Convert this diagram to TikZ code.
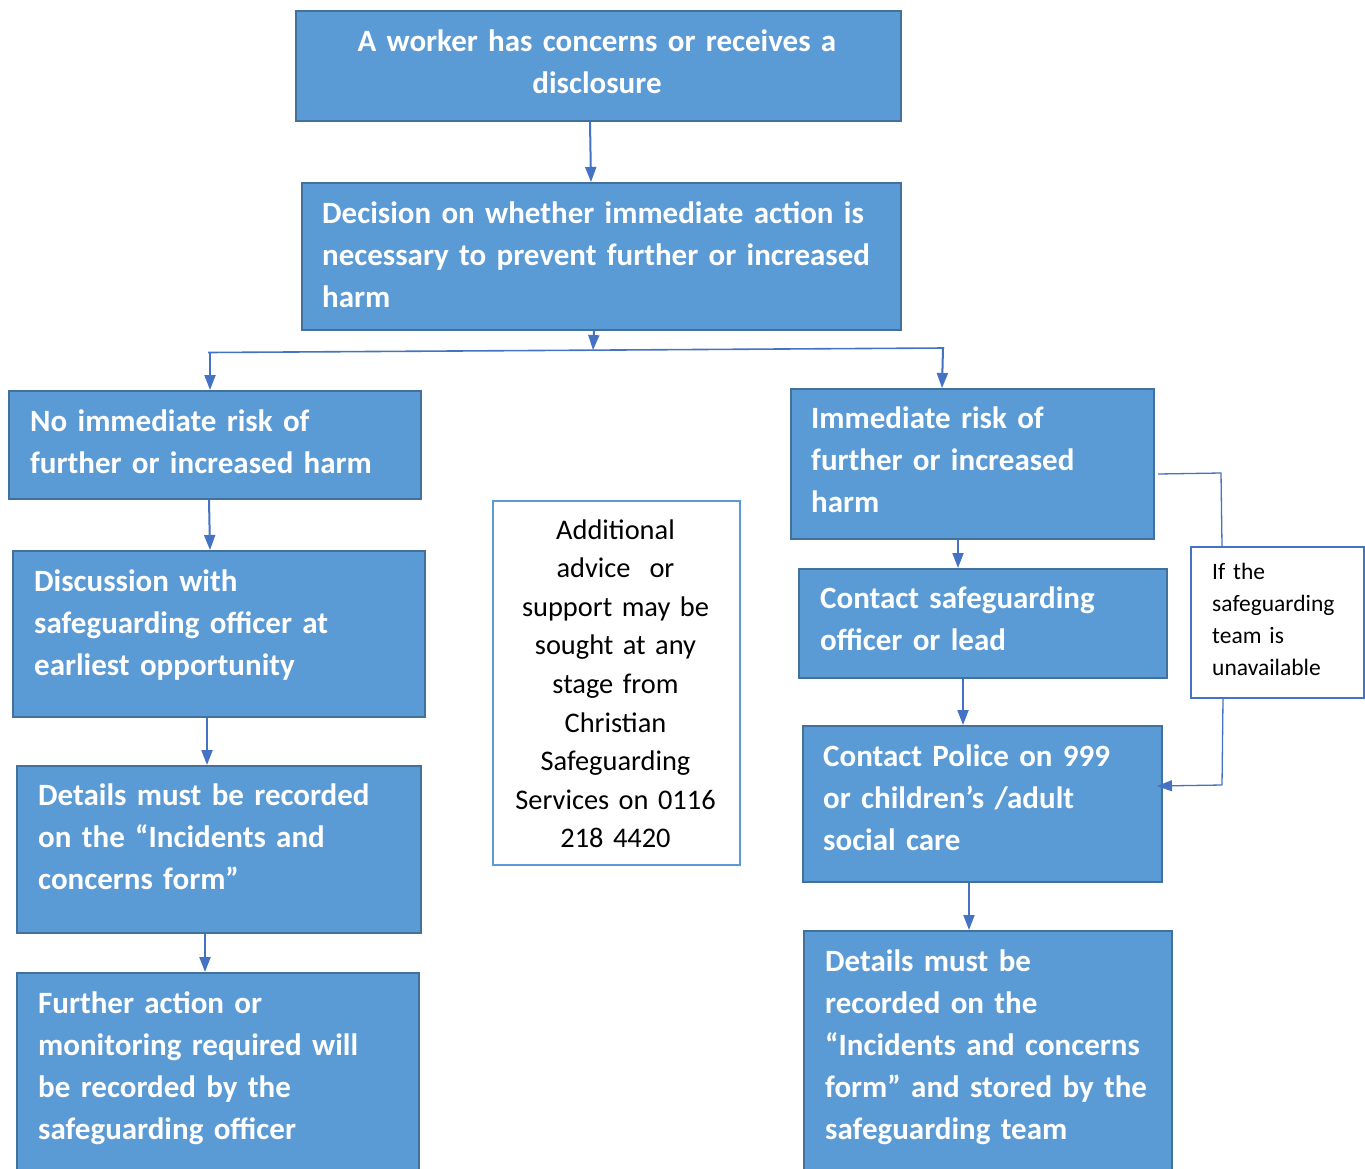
\documentclass[tikz,border=0pt]{standalone}
\usepackage{fontspec}
\setmainfont{Carlito}
\usetikzlibrary{arrows.meta}
\definecolor{boxfill}{HTML}{5B9BD5}
\definecolor{boxline}{HTML}{41719C}
\definecolor{arrcol}{HTML}{4472C4}
\tikzset{
  box/.style={draw=boxline, fill=boxfill, line width=2pt, rectangle, inner sep=0pt, anchor=north west},
  wbox/.style={draw=#1, fill=white, line width=2pt, rectangle, inner sep=0pt, anchor=north west},
  txt/.style={text=white, font=\bfseries\fontsize{31}{42}\selectfont, inner sep=0pt, align=left, text width=#1, anchor=base west},
  arr/.style={draw=arrcol, line width=2pt, -{Triangle[width=11pt,length=15pt]}},
  thin/.style={draw=arrcol, line width=1.3pt},
}
\begin{document}
\begin{tikzpicture}[x=1pt,y=-1pt]
\useasboundingbox (0,0) rectangle (1365,1168);
\clip (0,0) rectangle (1365,1168);
\fill[white] (0,0) rectangle (1365,1168);
% boxes
\node[box, minimum width=605pt, minimum height=110pt] (b1) at (295,10) {};
\node[box, minimum width=599pt, minimum height=147pt] (b2) at (301,182) {};
\node[box, minimum width=412pt, minimum height=108pt] (b3) at (8,390) {};
\node[box, minimum width=412pt, minimum height=166pt] (b4) at (12,550) {};
\node[box, minimum width=404pt, minimum height=167pt] (b5) at (16,765) {};
\node[box, minimum width=402pt, minimum height=215pt] (b6) at (16,972) {};
\node[box, minimum width=363pt, minimum height=150pt] (b7) at (790,388) {};
\node[box, minimum width=368pt, minimum height=109pt] (b8) at (798,568) {};
\node[box, minimum width=359pt, minimum height=156pt] (b9) at (802,725) {};
\node[box, minimum width=368pt, minimum height=257pt] (b10) at (803,930) {};
\node[wbox=boxfill, minimum width=247pt, minimum height=364pt] (add) at (492,500) {};
\node[wbox=arrcol, minimum width=173pt, minimum height=151pt] (ifb) at (1190,546) {};
% texts
\node[txt=600pt, align=center, anchor=base] (t1) at (597,51) {A worker has concerns or receives a\\disclosure};
\node[txt=600pt] (t2) at (322,223) {Decision on whether immediate action is\\necessary to prevent further or increased\\harm};
\node[txt=400pt] (t3) at (30,431) {No immediate risk of\\further or increased harm};
\node[txt=400pt] (t4) at (34,591) {Discussion with\\safeguarding officer at\\earliest opportunity};
\node[txt=400pt] (t5) at (38,805) {Details must be recorded\\on the “Incidents and\\concerns form”};
\node[txt=400pt] (t6) at (38,1013) {Further action or\\monitoring required will\\be recorded by the\\safeguarding officer};
\node[txt=360pt] (t7) at (811,428) {Immediate risk of\\further or increased\\harm};
\node[txt=360pt] (t8) at (820,608) {Contact safeguarding\\officer or lead};
\node[txt=360pt] (t9) at (823,766) {Contact Police on 999\\or children’s /adult\\social care};
\node[txt=360pt] (t10) at (825,971) {Details must be\\recorded on the\\“Incidents and concerns\\form” and stored by the\\safeguarding team};
\node[inner sep=0pt, text width=240pt, align=center, anchor=base, font=\fontsize{28.4}{38.6}\selectfont] (tadd) at (615.5,539) {Additional\\advice~ or\\support may be\\sought at any\\stage from\\Christian\\Safeguarding\\Services on 0116\\218 4420};
\node[inner sep=0pt, text width=150pt, align=left, anchor=base west, font=\fontsize{23.5}{32}\selectfont] (tif) at (1212,579) {If the\\safeguarding\\team is\\unavailable};
% connectors
\draw[arr] ([xshift=-8.5pt]b1.south) -- ([xshift=-10.5pt]b2.north);
\coordinate (j) at (593,350);
\coordinate (jl) at (208,352.5);
\coordinate (jr) at (944,348);
\draw[arr] ([xshift=-7.5pt]b2.south) -- (j);
\draw[thin, line width=1.6pt] (jl) -- (jr);
\draw[arr] ([xshift=2pt]jl) -- ([xshift=-5pt]b3.north);
\draw[arr] ([xshift=-1pt]jr) -- ([xshift=-30.5pt]b7.north);
\draw[arr] ([xshift=-6pt]b3.south) -- ([xshift=-9pt]b4.north);
\draw[arr] ([xshift=-12pt]b4.south) -- ([xshift=-12pt]b5.north);
\draw[arr] ([xshift=-14pt]b5.south) -- ([xshift=-13pt]b6.north);
\draw[arr] ([xshift=-14.5pt]b7.south) -- ([xshift=-25pt]b8.north);
\draw[arr] ([xshift=-20pt]b8.south) -- ([xshift=-19.5pt]b9.north);
\draw[arr] ([xshift=-13.5pt]b9.south) -- ([xshift=-19pt]b10.north);
\coordinate (k1) at (1221,473);
\coordinate (k2) at (1222,785);
\draw[thin] ([xshift=3pt,yshift=-10pt]b7.east) -- (k1) -- ([xshift=-55.5pt]ifb.north);
\draw[thin] ([xshift=-54.5pt]ifb.south) -- (k2);
\draw[thin, -{Triangle[width=11pt,length=15pt]}] (k2) -- ([xshift=-6pt,yshift=18pt]b9.east);
\end{tikzpicture}
\end{document}
